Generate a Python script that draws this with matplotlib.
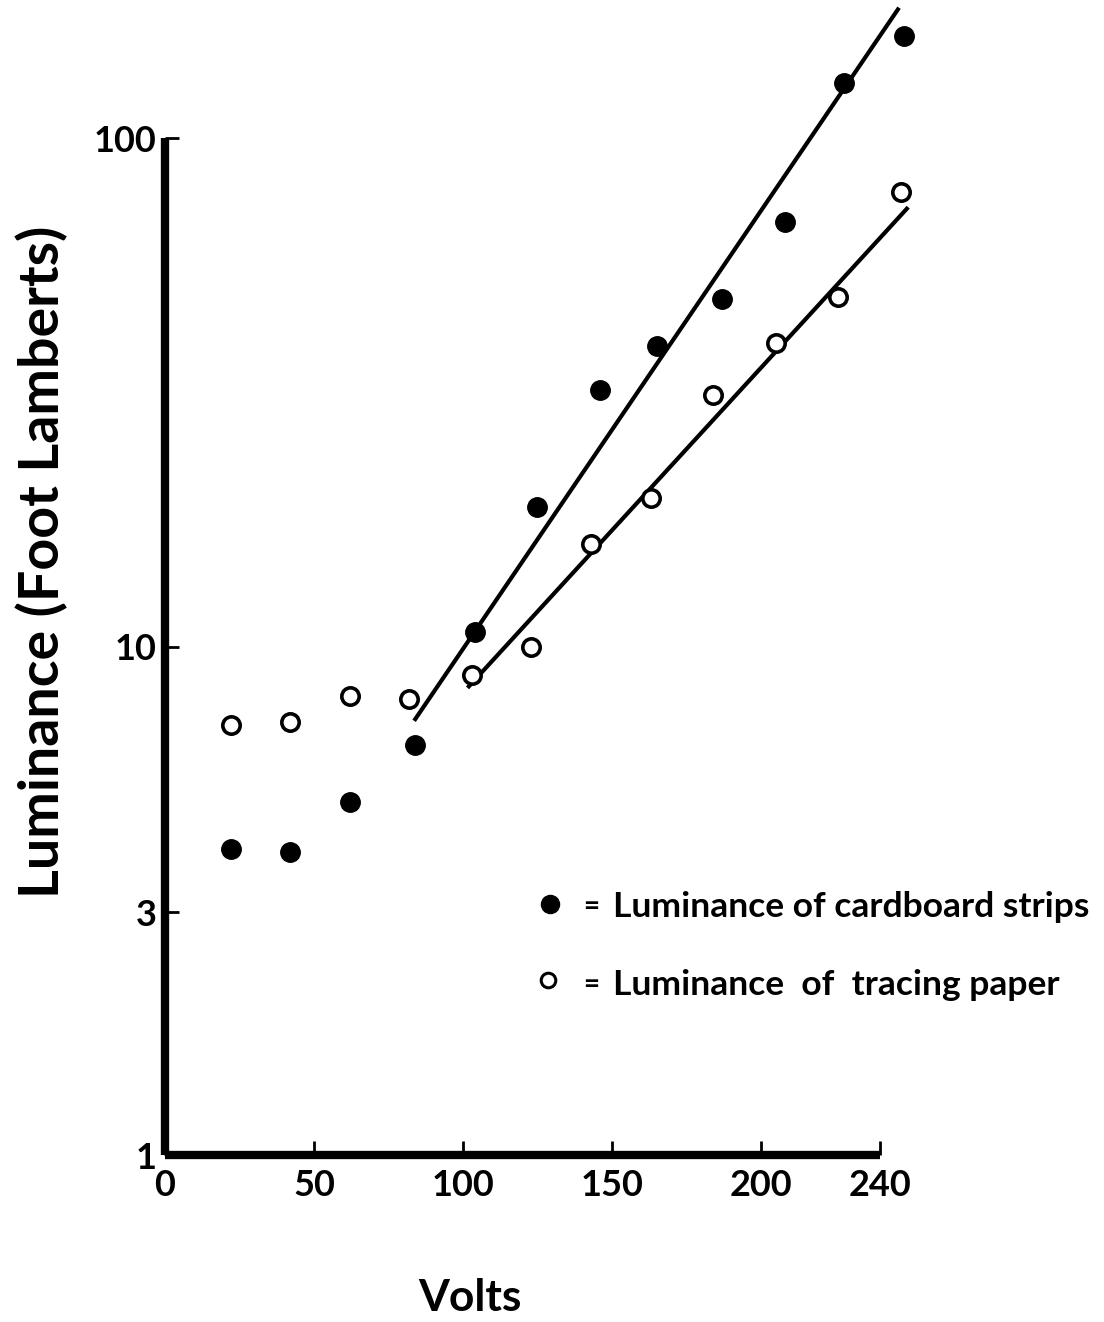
import numpy as np
import matplotlib
matplotlib.use("Agg")
import matplotlib.pyplot as plt

# --- data --- #
volts = [22, 42, 62, 84, 104, 125, 146, 165, 187, 208, 228, 248]
cardboard = [4.0, 3.95, 4.95, 6.4, 10.7, 18.8, 32.0, 39.0, 48.3, 68.4, 128, 159]
volts_tracing = [22, 42, 62, 82, 103, 123, 143, 163, 184, 205, 226, 247]
tracing = [7.0, 7.1, 8.0, 7.9, 8.8, 10.0, 15.9, 19.6, 31.3, 39.6, 48.7, 78.3]

# hand-drawn fit lines (end points)
fit_cardboard_x = [84, 246]
fit_cardboard_y = [7.2, 179]
fit_tracing_x = [102, 249]
fit_tracing_y = [8.35, 72.6]

xticks = [0, 50, 100, 150, 200, 240]
yticks = [1, 3, 10, 100]

fnt = "Lato"
W, H = 1104, 1322

fig = plt.figure(figsize=(11.04, 13.22), dpi=100)
ax = fig.add_axes([0.1495, 0.1263, 0.6476, 0.7693])

ax.set_yscale("log")
ax.set_xlim(0, 240)
ax.set_ylim(1, 100)

# fit lines
ax.plot(fit_cardboard_x, fit_cardboard_y, color="black", lw=3, clip_on=False)
ax.plot(fit_tracing_x, fit_tracing_y, color="black", lw=3, clip_on=False)

# points
ax.plot(volts, cardboard, "o", color="black", ms=14, clip_on=False, zorder=3)
ax.plot(volts_tracing, tracing, "o", mfc="white", mec="black", ms=12.5, mew=2.6,
        clip_on=False, zorder=3)

# axes styling
for s in ["top", "right"]:
    ax.spines[s].set_visible(False)
for s in ["left", "bottom"]:
    ax.spines[s].set_linewidth(6)
    ax.spines[s].set_capstyle("butt")

ax.set_xticks(xticks)
ax.set_xticklabels([str(t) for t in xticks])
ax.set_yticks(yticks)
ax.set_yticklabels([str(t) for t in yticks])
ax.yaxis.set_minor_locator(matplotlib.ticker.NullLocator())
ax.tick_params(axis="both", direction="in", length=10, width=2, labelsize=26)
ax.tick_params(axis="x", pad=10)
ax.tick_params(axis="y", pad=6)
for lab in ax.get_xticklabels() + ax.get_yticklabels():
    lab.set_fontfamily(fnt)
    lab.set_fontweight("bold")

# axis titles
fig.text(42 / W, 1 - 562 / H, "Luminance (Foot Lamberts)", fontsize=40,
         fontfamily=fnt, fontweight="bold", rotation=90, ha="center", va="center")
fig.text(470 / W, 1 - 1298 / H, "Volts", fontsize=32, fontfamily=fnt,
         fontweight="bold", ha="center", va="center")

# legend drawn by hand
ax.plot([550 / W], [1 - 904 / H], "o", color="black", ms=13,
        transform=fig.transFigure, clip_on=False)
ax.plot([548 / W], [1 - 980 / H], "o", mfc="white", mec="black", ms=10.5,
        mew=2.2, transform=fig.transFigure, clip_on=False)
fig.text(591 / W, 1 - 907 / H, "=", fontsize=20, fontfamily=fnt,
         fontweight="bold", ha="center", va="center")
fig.text(591 / W, 1 - 985 / H, "=", fontsize=20, fontfamily=fnt,
         fontweight="bold", ha="center", va="center")
fig.text(613 / W, 1 - 907 / H, "Luminance of cardboard strips", fontsize=25.5,
         fontfamily=fnt, fontweight="bold", ha="left", va="center")
fig.text(613 / W, 1 - 985 / H, "Luminance  of  tracing paper", fontsize=25.5,
         fontfamily=fnt, fontweight="bold", ha="left", va="center")

fig.savefig("out.png", dpi=100, facecolor="white")
